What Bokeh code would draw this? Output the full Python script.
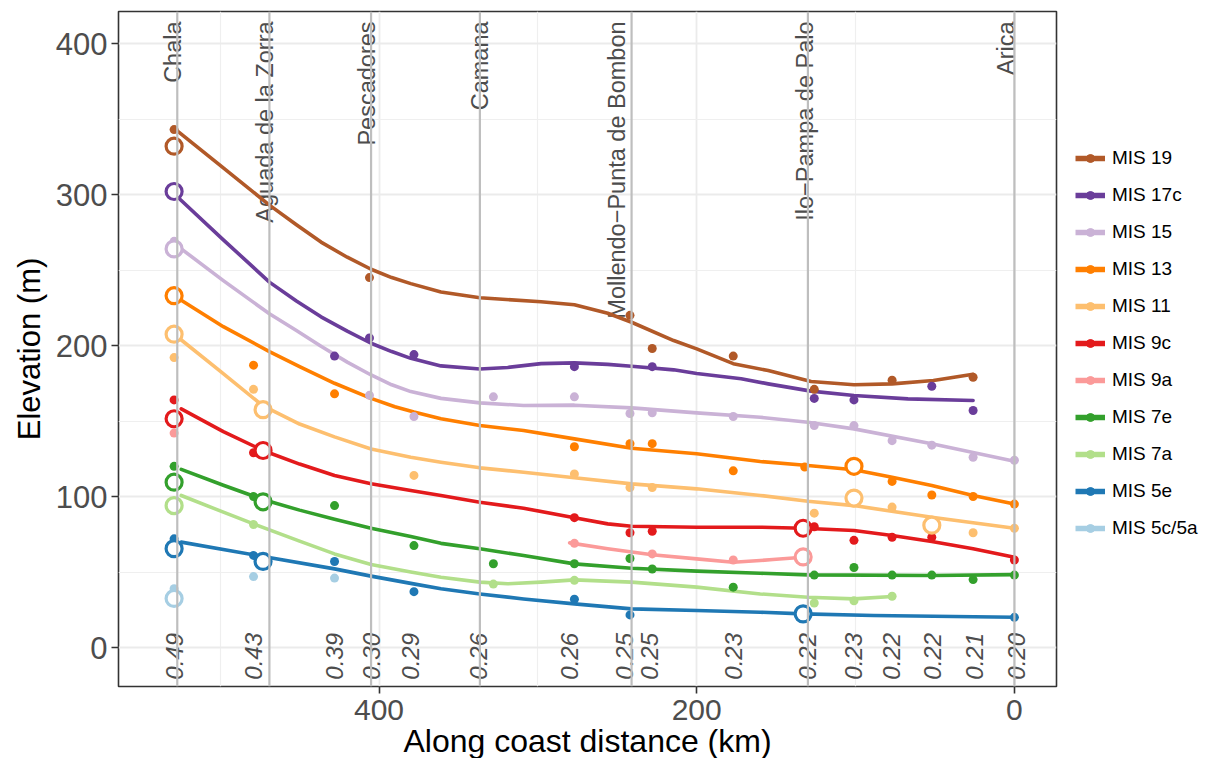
import math
from bokeh.plotting import figure
from bokeh.models import Range1d, FixedTicker, Span, Legend, LegendItem
from bokeh.core.properties import value
from bokeh.embed import file_html
from bokeh.resources import INLINE

FONT = "Liberation Sans"

# ---------------- data ----------------
series_names = ["MIS 19", "MIS 17c", "MIS 15", "MIS 13", "MIS 11", "MIS 9c",
                "MIS 9a", "MIS 7e", "MIS 7a", "MIS 5e", "MIS 5c/5a"]
series_colors = ["#B15928", "#6A3D9A", "#CAB2D6", "#FF7F00", "#FDBF6F", "#E31A1C",
                 "#FB9A99", "#33A02C", "#B2DF8A", "#1F78B4", "#A6CEE3"]

# terrace elevations (km along coast, m)
mis19_x = [529, 406, 242, 228, 177, 126, 77, 26]
mis19_y = [343, 245, 220, 198, 193, 171, 177, 179]
mis17c_x = [428, 406, 378, 277, 228, 126, 101, 52, 26]
mis17c_y = [193, 205, 194, 186, 186, 165, 164, 173, 157]
mis15_x = [529, 406, 378, 328, 277, 242, 228, 177, 126, 101, 77, 52, 26, 0]
mis15_y = [269, 167, 153, 166, 166, 155, 155.5, 153, 147, 147, 137, 134, 126, 124]
mis13_x = [479, 428, 277, 242, 228, 177, 132, 77, 52, 26, 0]
mis13_y = [187, 168, 133, 135, 135, 117, 119.5, 110, 101, 100, 95]
mis11_x = [529, 479, 378, 277, 242, 228, 126, 77, 26, 0]
mis11_y = [192, 171, 114, 115, 106, 106, 89, 93, 76, 79]
mis9c_x = [529, 479, 277, 242, 228, 126, 101, 77, 52, 0]
mis9c_y = [164, 129, 86, 76, 77, 80, 71, 73, 73, 58]
mis9a_x = [529, 277, 228, 177]
mis9a_y = [142, 69, 62, 58]
mis7e_x = [529, 479, 428, 378, 328, 277, 242, 228, 177, 126, 101, 77, 52, 26, 0]
mis7e_y = [120, 100, 94, 67.5, 55.5, 55.5, 59, 52, 40, 48, 53, 48, 48, 45, 48]
mis7a_x = [479, 328, 277, 126, 101, 77]
mis7a_y = [81.5, 42, 44.5, 29.5, 31, 34]
mis5e_x = [529, 479, 428, 378, 277, 242, 0]
mis5e_y = [72, 61, 57, 37, 32, 21.6, 20]
mis5c_x = [529, 479, 428]
mis5c_y = [39, 47, 46]

# reference (open circle) terraces
mis19_ref_x = [529]
mis19_ref_y = [332]
mis17c_ref_x = [529]
mis17c_ref_y = [302]
mis15_ref_x = [529]
mis15_ref_y = [264]
mis13_ref_x = [529, 101]
mis13_ref_y = [233, 120]
mis11_ref_x = [529, 473, 101, 52]
mis11_ref_y = [207.5, 157.5, 99, 81]
mis9c_ref_x = [529, 473, 133]
mis9c_ref_y = [151.5, 130.5, 79]
mis9a_ref_x = [133]
mis9a_ref_y = [60]
mis7e_ref_x = [529, 473]
mis7e_ref_y = [109.5, 96.5]
mis7a_ref_x = [529]
mis7a_ref_y = [94]
mis5e_ref_x = [529, 473, 133]
mis5e_ref_y = [65.5, 57, 22.3]
mis5c_ref_x = [529]
mis5c_ref_y = [32.5]

# smoothed trends
mis19_fit_x = [528, 499, 469, 452, 436.5, 420, 405, 392, 380, 361, 336.5, 298, 277, 256, 241, 214.5, 200, 177, 155, 128, 101, 77, 51, 26]
mis19_fit_y = [343, 318.5, 293, 280, 268.5, 258.5, 250.5, 245, 241, 235.5, 231.6, 229, 227, 221.4, 215.4, 203.3, 197.8, 188, 183.4, 176.2, 174, 174.6, 176.8, 181]
mis17c_fit_x = [528, 498, 469, 452, 436.5, 420, 405, 392, 380, 361, 336.5, 319, 298, 277, 256, 241, 214.5, 200, 172, 155, 128, 101, 67, 26]
mis17c_fit_y = [299.5, 270, 242, 229.5, 219, 209.5, 201.5, 196, 191.5, 186.5, 184.5, 185.5, 188, 188.5, 187.5, 186.3, 183.9, 181.5, 178, 174.6, 169.8, 166.9, 164.7, 163.6]
mis15_fit_x = [527, 498, 469, 452, 436.5, 420, 405, 392, 380, 361, 336.5, 309, 277, 241, 200, 160, 130, 101, 52, 0]
mis15_fit_y = [266, 243, 221, 210, 199.5, 189, 180.5, 174, 169.5, 165, 162, 160.3, 160.5, 158.7, 155.4, 152.5, 149.2, 144.8, 134.9, 123.4]
mis13_fit_x = [526, 498, 469, 450, 428, 405, 390, 378, 361, 336.5, 309, 277, 241, 200, 160, 130, 101, 77, 52, 26, 0]
mis13_fit_y = [231, 212.5, 196, 186, 175, 165, 159.5, 156, 151.5, 147, 143.7, 138.2, 132, 128.3, 123.2, 120.5, 117.7, 112.8, 107.3, 100.7, 95.1]
mis11_fit_x = [526, 500, 473, 450, 428, 405, 380, 361, 336.5, 309, 277, 241, 200, 160, 130, 101, 52, 0]
mis11_fit_y = [205, 183, 160, 148, 139.5, 131.5, 126, 122.7, 119, 116.1, 112.4, 108.4, 105.1, 100.7, 96.9, 94, 86.3, 79]
mis9c_fit_x = [524.5, 498, 473, 450, 428, 405, 380, 361, 336.5, 309, 277, 256, 241, 200, 160, 133, 101, 77, 52, 26, 0]
mis9c_fit_y = [158, 143, 130.5, 121.5, 113.9, 108.5, 104, 100.7, 96.2, 92.3, 85.9, 81.9, 80.3, 79.7, 79.7, 79, 77.5, 74.2, 70.2, 65.4, 59.8]
mis9a_fit_x = [280, 256, 228, 200, 177, 160, 152, 133]
mis9a_fit_y = [69.3, 65.4, 61.4, 58.7, 56.5, 57.6, 58.3, 59.8]
mis7e_fit_x = [524.5, 498, 473, 450, 428, 405, 380, 361, 336.5, 309, 277, 241, 200, 160, 130, 52, 0]
mis7e_fit_y = [118, 107.5, 98, 91, 85, 79, 73.5, 69, 65.4, 60.9, 55.4, 52.5, 50.6, 49.2, 48.1, 47.7, 48.3]
mis7a_fit_x = [524.5, 500, 479, 450, 428, 405, 380, 361, 336.5, 319, 298, 277, 241, 200, 160, 130, 101, 77]
mis7a_fit_y = [100.7, 90.5, 81.9, 70.5, 62, 55, 50, 46.6, 43.3, 42.2, 43.3, 44.8, 43.3, 40, 35.5, 33.3, 32.2, 33.8]
mis5e_fit_x = [524.5, 473, 428, 405, 380, 361, 336.5, 309, 277, 241, 200, 160, 133, 88.7, 0]
mis5e_fit_y = [69.8, 60.3, 52.1, 47.3, 42.5, 38.9, 35.5, 32.2, 28.9, 25.6, 24.5, 23.4, 22.3, 21.2, 20.1]
mis5c_fit_x = []
mis5c_fit_y = []

# sites
site_names = ["Chala", "Aguada de la Zorra", "Pescadores", "Camana",
              "Mollendo\u2212Punta de Bombon", "Ilo\u2212Pampa de Palo", "Arica"]
site_line_km = [527, 469, 405, 336.5, 241, 130, 0]
site_label_km = [530, 472, 407.5, 336.5, 250, 132, 5]

# uplift rates
rate_labels = ["0.49", "0.43", "0.39", "0.30", "0.29", "0.26", "0.26", "0.25",
               "0.25", "0.23", "0.22", "0.23", "0.22", "0.22", "0.21", "0.20"]
rate_km = [529, 478.8, 428.3, 405, 380, 337.4, 279.9, 245.3, 229.6, 177,
           130.2, 101.3, 77.4, 51.6, 25.2, -1.3]

x_ticks = [0, 200, 400]
x_minor = [100, 300, 500]
y_ticks = [0, 100, 200, 300, 400]
y_minor = [50, 150, 250, 350]

series = [
    (mis19_x, mis19_y, mis19_ref_x, mis19_ref_y, mis19_fit_x, mis19_fit_y),
    (mis17c_x, mis17c_y, mis17c_ref_x, mis17c_ref_y, mis17c_fit_x, mis17c_fit_y),
    (mis15_x, mis15_y, mis15_ref_x, mis15_ref_y, mis15_fit_x, mis15_fit_y),
    (mis13_x, mis13_y, mis13_ref_x, mis13_ref_y, mis13_fit_x, mis13_fit_y),
    (mis11_x, mis11_y, mis11_ref_x, mis11_ref_y, mis11_fit_x, mis11_fit_y),
    (mis9c_x, mis9c_y, mis9c_ref_x, mis9c_ref_y, mis9c_fit_x, mis9c_fit_y),
    (mis9a_x, mis9a_y, mis9a_ref_x, mis9a_ref_y, mis9a_fit_x, mis9a_fit_y),
    (mis7e_x, mis7e_y, mis7e_ref_x, mis7e_ref_y, mis7e_fit_x, mis7e_fit_y),
    (mis7a_x, mis7a_y, mis7a_ref_x, mis7a_ref_y, mis7a_fit_x, mis7a_fit_y),
    (mis5e_x, mis5e_y, mis5e_ref_x, mis5e_ref_y, mis5e_fit_x, mis5e_fit_y),
    (mis5c_x, mis5c_y, mis5c_ref_x, mis5c_ref_y, mis5c_fit_x, mis5c_fit_y),
]

# ---------------- figure ----------------
p = figure(output_backend="svg", toolbar_location=None,
           frame_width=938, frame_height=675,
           min_border_left=118, min_border_top=11, min_border_bottom=72,
           min_border_right=151,
           x_range=Range1d(564, -26.5), y_range=Range1d(-25.8, 421.2),
           background_fill_color="white", border_fill_color="white")

p.outline_line_color = "#333333"
p.outline_line_width = 1.6

for ax, tk, mn in ((p.xaxis[0], x_ticks, x_minor), (p.yaxis[0], y_ticks, y_minor)):
    ax.ticker = FixedTicker(ticks=tk, minor_ticks=mn)
    ax.axis_line_color = None
    ax.major_tick_line_color = "#333333"
    ax.major_tick_line_width = 1.6
    ax.major_tick_out = 7
    ax.major_tick_in = 0
    ax.minor_tick_line_color = None
    ax.major_label_text_font = FONT
    ax.major_label_text_color = "#4D4D4D"
    ax.axis_label_text_font = FONT
    ax.axis_label_text_font_style = "normal"
    ax.axis_label_text_color = "black"

p.xaxis.axis_label = "Along coast distance (km)"
p.yaxis.axis_label = "Elevation (m)"
p.xaxis.major_label_text_font_size = "30px"
p.yaxis.major_label_text_font_size = "31px"
p.xaxis.axis_label_text_font_size = "32px"
p.yaxis.axis_label_text_font_size = "31px"
p.xaxis.major_label_standoff = 6
p.yaxis.major_label_standoff = 4
p.xaxis.axis_label_standoff = 0
p.yaxis.axis_label_standoff = 6

for g in (p.xgrid[0], p.ygrid[0]):
    g.grid_line_color = "#EBEBEB"
    g.grid_line_width = 1.8
    g.minor_grid_line_color = "#EFEFEF"
    g.minor_grid_line_width = 1.2

# site lines
for xk in site_line_km:
    p.add_layout(Span(location=xk, dimension="height", line_color="#BEBEBE", line_width=2.2))

# site names (top)
p.text(x=site_label_km, y=[414.6] * len(site_names), text=site_names,
       angle=math.pi / 2, text_align="right", text_baseline="middle",
       text_font=value(FONT), text_font_size="23.5px", text_color="#4D4D4D")

# uplift rates (bottom)
p.text(x=rate_km, y=[-5.8] * len(rate_labels), text=rate_labels,
       angle=math.pi / 2, text_align="center", text_baseline="middle",
       text_font=value(FONT), text_font_size="24px", text_font_style="italic",
       text_color="#4D4D4D")

# series
for (px_, py_, rx, ry, fx, fy), col in zip(series, series_colors):
    if fx:
        p.line(fx, fy, line_color=col, line_width=3.6, line_join="round", line_cap="round")
for (px_, py_, rx, ry, fx, fy), col in zip(series, series_colors):
    p.scatter(px_, py_, size=9, fill_color=col, line_color=col, line_width=0)
for (px_, py_, rx, ry, fx, fy), col in zip(series, series_colors):
    p.scatter(rx, ry, size=16, fill_color="white", line_color=col, line_width=3.2)

# legend (key glyphs only; NaN rows are never drawn in the plot)
nan = float("nan")
items = []
for name, col in zip(series_names, series_colors):
    rl = p.line([nan], [nan], line_color=col, line_width=5.5)
    rd = p.scatter([nan], [nan], size=9, fill_color=col, line_color=col)
    items.append(LegendItem(label=name, renderers=[rl, rd]))
legend = Legend(items=items, location=(19, 147), orientation="vertical",
                border_line_color=None, background_fill_alpha=0,
                glyph_width=30, glyph_height=20, label_height=20,
                spacing=15, padding=0, margin=0, label_standoff=7,
                label_text_font=FONT, label_text_font_size="19px",
                label_text_color="black")
p.add_layout(legend, "right")

open("out.html", "w").write(file_html(p, INLINE))
